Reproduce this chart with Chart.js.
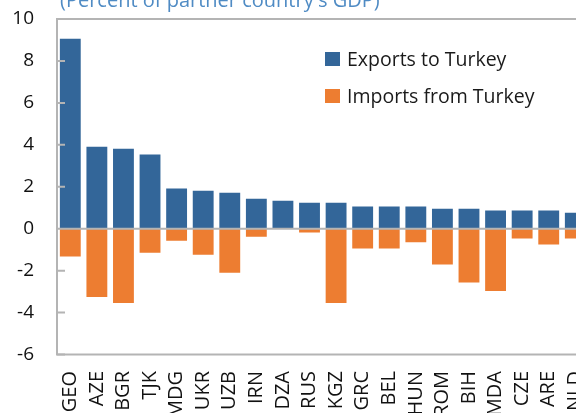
<!DOCTYPE html>
<html>
<head>
<meta charset="utf-8">
<script src="https://cdn.jsdelivr.net/npm/chart.js@4.4.1/dist/chart.umd.min.js"></script>
<style>
  body { margin: 0; width: 576px; height: 413px; overflow: hidden; background: #fff; font-family: "Open Sans", sans-serif; }
  #wrap { position: absolute; left: 0; top: 0; width: 600px; height: 413px; }
  #title { position: absolute; left: 60px; top: -14px; font-size: 20px; color: #4f8bc4; white-space: nowrap; }
  #legend { position: absolute; left: 325px; top: 45px; font-size: 19.5px; color: #1a1a1a; }
  #legend div { height: 37px; display: flex; align-items: flex-start; }
  #legend span.box { display: inline-block; width: 15px; height: 14px; margin-top: 7px; margin-right: 7px; }
</style>
</head>
<body>
<div id="wrap"><canvas id="chart" width="600" height="413"></canvas></div>
<div id="title">(Percent of partner country's GDP)</div>
<div id="legend"></div>
<script>
// partner countries, sorted by exports to Turkey
const countries = ["GEO", "AZE", "BGR", "TJK", "MDG", "UKR", "UZB", "IRN", "DZA", "RUS",
  "KGZ", "GRC", "BEL", "HUN", "ROM", "BIH", "MDA", "CZE", "ARE", "NLD"];
const exportsToTurkey = [9.1, 3.96, 3.86, 3.58, 1.96, 1.86, 1.76, 1.48, 1.38, 1.29,
  1.29, 1.1, 1.1, 1.1, 1.0, 1.0, 0.91, 0.91, 0.91, 0.81];
const importsFromTurkey = [-1.38, -3.3, -3.59, -1.19, -0.62, -1.29, -2.15, -0.43, 0, -0.23,
  -3.59, -0.99, -0.99, -0.7, -1.76, -2.61, -3.02, -0.51, -0.8, -0.51];
const yTicks = [-6, -4, -2, 0, 2, 4, 6, 8, 10];

const blue = "#336699";
const orange = "#ed7d31";
const axisGrey = "#b4b4b4";

// box round the plot, zero line and small inside tick marks
const framePlugin = {
  id: "frame",
  afterDatasetsDraw(chart) {
    const { ctx, chartArea: a, scales } = chart;
    ctx.save();
    ctx.strokeStyle = axisGrey;
    ctx.lineWidth = 2;
    ctx.strokeRect(a.left, a.top, a.right - a.left, a.bottom - a.top);
    const y0 = scales.y.getPixelForValue(0);
    ctx.beginPath();
    ctx.moveTo(a.left, y0);
    ctx.lineTo(a.right, y0);
    yTicks.forEach((v) => {
      const y = scales.y.getPixelForValue(v);
      ctx.moveTo(a.left, y);
      ctx.lineTo(a.left + 8, y);
    });
    ctx.stroke();
    ctx.restore();
  },
};

const chart = new Chart(document.getElementById("chart").getContext("2d"), {
  type: "bar",
  data: {
    labels: countries,
    datasets: [
      { label: "Exports to Turkey", data: exportsToTurkey, backgroundColor: blue },
      { label: "Imports from Turkey", data: importsFromTurkey, backgroundColor: orange },
    ],
  },
  options: {
    responsive: false,
    animation: false,
    layout: { padding: { top: 19, right: 11.4, left: 0, bottom: 0 } },
    datasets: {
      bar: {
        categoryPercentage: 1,
        barPercentage: 0.86,
        borderWidth: 1,
        borderColor: "rgba(255,255,255,0.7)",
      },
    },
    plugins: {
      legend: { display: false },
      tooltip: { enabled: false },
    },
    scales: {
      x: {
        stacked: true,
        grid: { display: false },
        border: { display: false },
        ticks: {
          autoSkip: false,
          minRotation: 90,
          maxRotation: 90,
          padding: 8.5,
          color: "#111",
          font: { family: "Open Sans", size: 20 },
        },
        afterFit: (s) => {
          s.height = 58.5;
          s.paddingLeft = 0;
          s.paddingRight = 0;
        },
      },
      y: {
        stacked: true,
        min: -6,
        max: 10,
        grid: { display: false },
        border: { display: false },
        ticks: {
          stepSize: 2,
          padding: 15,
          color: "#111",
          font: { family: "Open Sans", size: 19 },
        },
        afterFit: (s) => {
          s.width = 57;
          s.paddingTop = 0;
          s.paddingBottom = 0;
        },
      },
    },
  },
  plugins: [framePlugin],
});

// legend drawn as html, from the datasets
const legend = document.getElementById("legend");
chart.data.datasets.forEach((ds) => {
  const row = document.createElement("div");
  row.innerHTML = '<span class="box" style="background:' + ds.backgroundColor + '"></span>' + ds.label;
  legend.appendChild(row);
});
</script>
</body>
</html>
